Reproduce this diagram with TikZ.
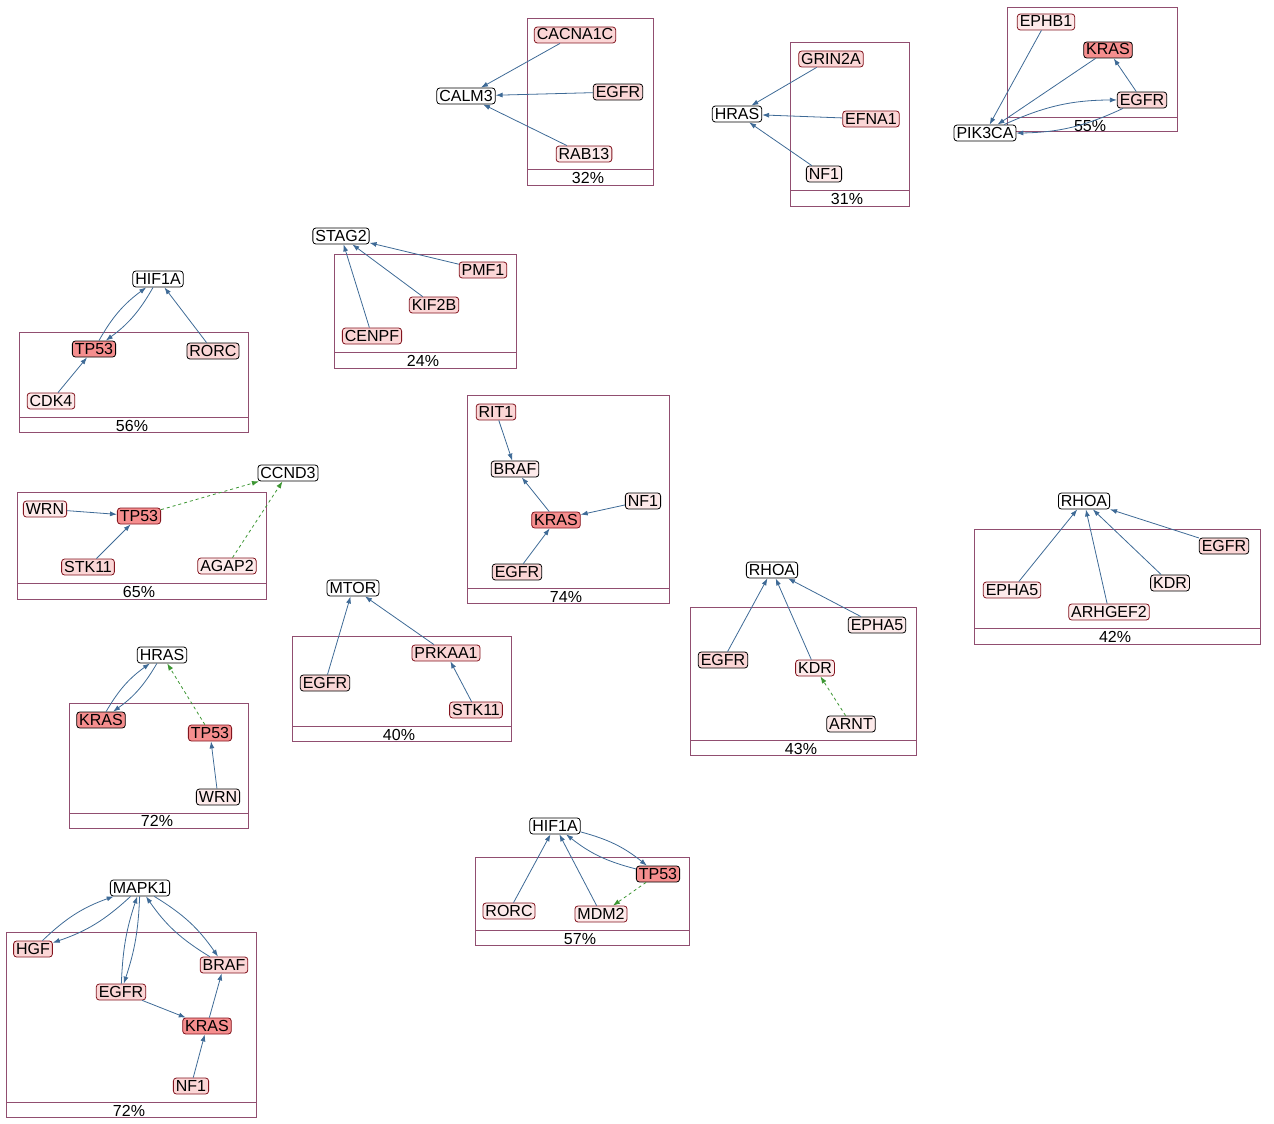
\documentclass[tikz,border=0pt]{standalone}
\usepackage{fontspec}
\setmainfont{Liberation Sans}
\usepackage{tikz}
\usetikzlibrary{arrows.meta, calc}

\definecolor{edgeblue}{RGB}{62,106,150}
\definecolor{predgreen}{RGB}{60,150,50}
\definecolor{boxpurple}{RGB}{145,78,112}
\definecolor{bordred}{RGB}{130,20,30}
\definecolor{pinklite}{RGB}{253,234,234}
\definecolor{pinkmid}{RGB}{251,214,214}
\definecolor{salmon}{RGB}{245,142,142}

\newcommand{\genefont}{\fontsize{16}{16}\selectfont}

\tikzset{
  gene/.style={draw=black, rounded corners=3pt, inner xsep=2.5pt, inner ysep=1pt,
    text height=12pt, text depth=2pt, font=\genefont, line width=0.8pt},
  tgt/.style={gene, fill=white},
  lo/.style={gene, fill=pinklite},
  mid/.style={gene, fill=pinkmid},
  hot/.style={gene, fill=salmon},
  rb/.style={draw=bordred},
  edge/.style={draw=edgeblue, line width=0.8pt, -{Latex[length=7pt,width=5pt]}},
  pred/.style={draw=predgreen, line width=0.8pt, dashed, -{Latex[length=7pt,width=5pt]}},
  grp/.style={draw=boxpurple, line width=0.8pt},
  pct/.style={font=\genefont, inner sep=0pt}
}

\begin{document}
\begin{tikzpicture}[x=1pt, y=1pt]
    \useasboundingbox (0,0) rectangle (1274,-1124);

    % module boxes
    \draw[grp] (527,-18) rectangle (653,-185) (527,-169) -- (653,-169);
    \draw[grp] (790,-42) rectangle (909,-206) (790,-190) -- (909,-190);
    \draw[grp] (1007,-7) rectangle (1177,-131) (1007,-117) -- (1177,-117);
    \draw[grp] (19,-332) rectangle (248,-432) (19,-417) -- (248,-417);
    \draw[grp] (334,-254) rectangle (516,-368) (334,-352) -- (516,-352);
    \draw[grp] (17,-492) rectangle (266,-599) (17,-583) -- (266,-583);
    \draw[grp] (467,-395) rectangle (669,-603) (467,-588) -- (669,-588);
    \draw[grp] (69,-703) rectangle (248,-828) (69,-813) -- (248,-813);
    \draw[grp] (292,-636) rectangle (511,-741) (292,-726) -- (511,-726);
    \draw[grp] (690,-607) rectangle (916,-755) (690,-740) -- (916,-740);
    \draw[grp] (974,-529) rectangle (1260,-644) (974,-628) -- (1260,-628);
    \draw[grp] (475,-857) rectangle (689,-945) (475,-930) -- (689,-930);
    \draw[grp] (6,-932) rectangle (256,-1117) (6,-1102) -- (256,-1102);

    % percentages
    \node[pct] (p32) at (588,-178) {32\%};
    \node[pct] (p31) at (847,-199) {31\%};
    \node[pct] (p55) at (1090,-126) {55\%};
    \node[pct] (p56) at (132,-426) {56\%};
    \node[pct] (p24) at (423,-361) {24\%};
    \node[pct] (p65) at (139,-592) {65\%};
    \node[pct] (p74) at (566,-597) {74\%};
    \node[pct] (p72a) at (157,-821) {72\%};
    \node[pct] (p40) at (399,-735) {40\%};
    \node[pct] (p43) at (801,-749) {43\%};
    \node[pct] (p42) at (1115,-637) {42\%};
    \node[pct] (p57) at (580,-939) {57\%};
    \node[pct] (p72b) at (129,-1111) {72\%};

    % CALM3
    \node[tgt] (calm) at (466,-96) {CALM3};
    \node[mid, rb] (cacna1c) at (575,-35) {CACNA1C};
    \node[mid] (egfrA) at (618,-92) {EGFR};
    \node[lo, rb] (rab13) at (584,-154) {RAB13};
    \draw[edge] (cacna1c) -- (calm);
    \draw[edge] (egfrA) -- (calm);
    \draw[edge] (rab13) -- (calm);

    % HRAS (top)
    \node[tgt] (hrasA) at (737,-114) {HRAS};
    \node[mid, rb] (grin2a) at (831,-59) {GRIN2A};
    \node[mid, rb] (efna1) at (871,-119) {EFNA1};
    \node[lo] (nf1A) at (824,-174) {NF1};
    \draw[edge] (grin2a) -- (hrasA);
    \draw[edge] (efna1) -- (hrasA);
    \draw[edge] (nf1A) -- (hrasA);

    % PIK3CA
    \node[tgt] (pik3ca) at (985,-133) {PIK3CA};
    \node[lo, rb] (ephb1) at (1046,-22) {EPHB1};
    \node[hot] (krasA) at (1108,-50) {KRAS};
    \node[mid] (egfrB) at (1142,-100) {EGFR};
    \draw[edge] (ephb1) -- (pik3ca);
    \draw[edge] (krasA) -- (pik3ca);
    \draw[edge] (egfrB) -- (krasA);
    \draw[edge] (pik3ca) to[bend left=12] (egfrB);
    \draw[edge] (egfrB) to[bend left=12] (pik3ca);

    % HIF1A (left)
    \node[tgt] (hif1aA) at (158,-279) {HIF1A};
    \node[hot] (tp53A) at (94,-349) {TP53};
    \node[mid] (rorcA) at (213,-351) {RORC};
    \node[lo, rb] (cdk4) at (51,-401) {CDK4};
    \draw[edge] (tp53A) to[bend left=12] (hif1aA);
    \draw[edge] (hif1aA) to[bend left=12] (tp53A);
    \draw[edge] (rorcA) -- (hif1aA);
    \draw[edge] (cdk4) -- (tp53A);

    % STAG2
    \node[tgt] (stag2) at (341,-236) {STAG2};
    \node[mid, rb] (pmf1) at (483,-270) {PMF1};
    \node[mid, rb] (kif2b) at (434,-305) {KIF2B};
    \node[mid, rb] (cenpf) at (372,-336) {CENPF};
    \draw[edge] (pmf1) -- (stag2);
    \draw[edge] (kif2b) -- (stag2);
    \draw[edge] (cenpf) -- (stag2);

    % CCND3
    \node[tgt] (ccnd3) at (288,-473) {CCND3};
    \node[lo, rb] (wrnA) at (45,-509) {WRN};
    \node[hot, rb] (tp53B) at (139,-516) {TP53};
    \node[mid, rb] (stk11A) at (88,-567) {STK11};
    \node[lo, rb] (agap2) at (227,-566) {AGAP2};
    \draw[edge] (wrnA) -- (tp53B);
    \draw[edge] (stk11A) -- (tp53B);
    \draw[pred] (tp53B) -- (ccnd3);
    \draw[pred] (agap2) -- (ccnd3);

    % BRAF / KRAS
    \node[mid, rb] (rit1) at (496,-412) {RIT1};
    \node[lo] (brafA) at (515,-469) {BRAF};
    \node[hot, rb] (krasB) at (556,-520) {KRAS};
    \node[lo] (nf1B) at (643,-501) {NF1};
    \node[mid] (egfrC) at (517,-572) {EGFR};
    \draw[edge] (rit1) -- (brafA);
    \draw[edge] (krasB) -- (brafA);
    \draw[edge] (nf1B) -- (krasB);
    \draw[edge] (egfrC) -- (krasB);

    % HRAS (lower)
    \node[tgt] (hrasB) at (162,-655) {HRAS};
    \node[hot] (krasC) at (101,-720) {KRAS};
    \node[hot, rb] (tp53C) at (210,-733) {TP53};
    \node[lo] (wrnB) at (218,-797) {WRN};
    \draw[edge] (krasC) to[bend left=12] (hrasB);
    \draw[edge] (hrasB) to[bend left=12] (krasC);
    \draw[pred] (tp53C) -- (hrasB);
    \draw[edge] (wrnB) -- (tp53C);

    % MTOR
    \node[tgt] (mtor) at (353,-588) {MTOR};
    \node[mid] (egfrD) at (325,-683) {EGFR};
    \node[mid, rb] (prkaa1) at (446,-653) {PRKAA1};
    \node[mid, rb] (stk11B) at (476,-710) {STK11};
    \draw[edge] (egfrD) -- (mtor);
    \draw[edge] (prkaa1) -- (mtor);
    \draw[edge] (stk11B) -- (prkaa1);

    % RHOA (middle)
    \node[tgt] (rhoaA) at (772,-570) {RHOA};
    \node[mid] (egfrE) at (723,-660) {EGFR};
    \node[lo] (epha5A) at (877,-625) {EPHA5};
    \node[lo, rb] (kdrA) at (815,-668) {KDR};
    \node[lo] (arnt) at (851,-724) {ARNT};
    \draw[edge] (egfrE) -- (rhoaA);
    \draw[edge] (kdrA) -- (rhoaA);
    \draw[edge] (epha5A) -- (rhoaA);
    \draw[pred] (arnt) -- (kdrA);

    % RHOA (right)
    \node[tgt] (rhoaB) at (1084,-501) {RHOA};
    \node[mid] (egfrF) at (1224,-546) {EGFR};
    \node[lo, rb] (epha5B) at (1012,-590) {EPHA5};
    \node[lo, rb] (arhgef2) at (1109,-612) {ARHGEF2};
    \node[lo] (kdrB) at (1170,-583) {KDR};
    \draw[edge] (epha5B) -- (rhoaB);
    \draw[edge] (arhgef2) -- (rhoaB);
    \draw[edge] (kdrB) -- (rhoaB);
    \draw[edge] (egfrF) -- (rhoaB);

    % HIF1A (lower)
    \node[tgt] (hif1aB) at (555,-826) {HIF1A};
    \node[hot] (tp53D) at (658,-874) {TP53};
    \node[lo, rb] (rorcB) at (509,-911) {RORC};
    \node[lo, rb] (mdm2) at (601,-914) {MDM2};
    \draw[edge] (rorcB) -- (hif1aB);
    \draw[edge] (mdm2) -- (hif1aB);
    \draw[edge] (hif1aB) to[bend left=12] (tp53D);
    \draw[edge] (tp53D) to[bend left=12] (hif1aB);
    \draw[pred] (tp53D) -- (mdm2);

    % MAPK1
    \node[tgt] (mapk1) at (140,-888) {MAPK1};
    \node[mid, rb] (hgf) at (33,-949) {HGF};
    \node[mid, rb] (brafB) at (224,-965) {BRAF};
    \node[mid, rb] (egfrG) at (121,-992) {EGFR};
    \node[hot, rb] (krasD) at (207,-1026) {KRAS};
    \node[mid, rb] (nf1C) at (191,-1086) {NF1};
    \draw[edge] (hgf) to[bend left=12] (mapk1);
    \draw[edge] (mapk1) to[bend left=12] (hgf);
    \draw[edge] (egfrG) to[bend left=8] (mapk1);
    \draw[edge] (mapk1) to[bend left=8] (egfrG);
    \draw[edge] (brafB) to[bend left=12] (mapk1);
    \draw[edge] (mapk1) to[bend left=12] (brafB);
    \draw[edge] (egfrG) -- (krasD);
    \draw[edge] (krasD) -- (brafB);
    \draw[edge] (nf1C) -- (krasD);
\end{tikzpicture}
\end{document}
